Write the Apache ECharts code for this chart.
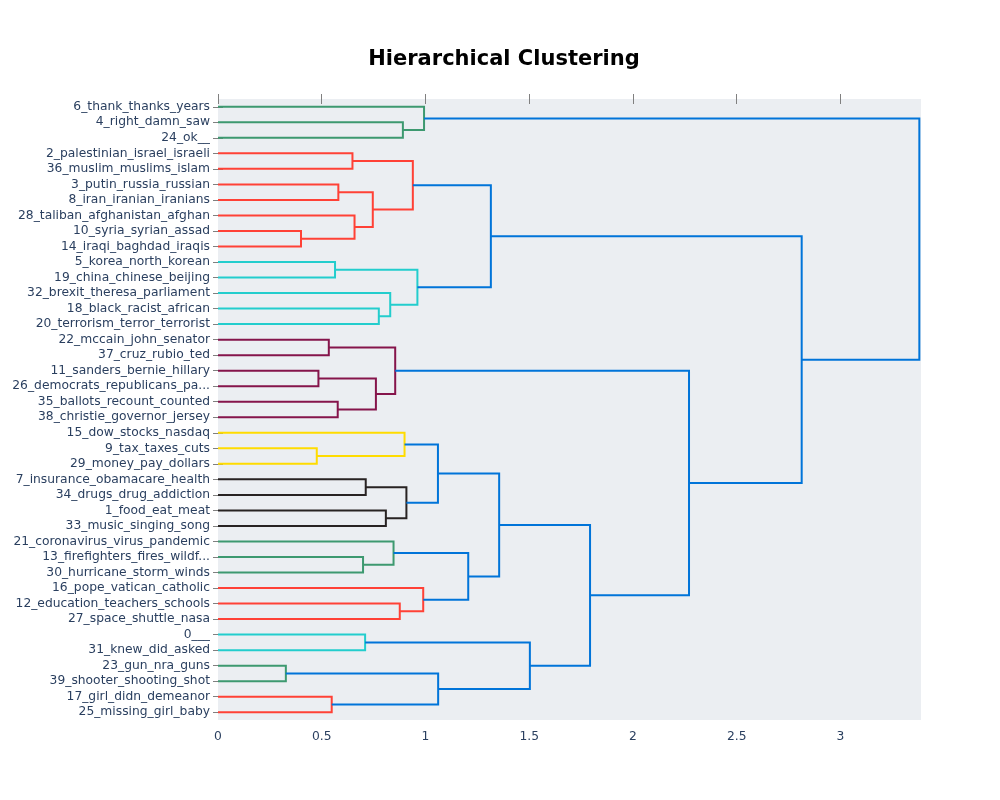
<!DOCTYPE html>
<html>
<head>
<meta charset="utf-8">
<script src="https://cdn.jsdelivr.net/npm/echarts@6/dist/echarts.min.js"></script>
<style>
html,body{margin:0;padding:0;background:#fff;}
#chart{width:1000px;height:800px;}
</style>
</head>
<body>
<div id="chart"></div>
<script>
// Leaves, top to bottom
const leaves = [
  "6_thank_thanks_years","4_right_damn_saw","24_ok__","2_palestinian_israel_israeli",
  "36_muslim_muslims_islam","3_putin_russia_russian","8_iran_iranian_iranians",
  "28_taliban_afghanistan_afghan","10_syria_syrian_assad","14_iraqi_baghdad_iraqis",
  "5_korea_north_korean","19_china_chinese_beijing","32_brexit_theresa_parliament",
  "18_black_racist_african","20_terrorism_terror_terrorist","22_mccain_john_senator",
  "37_cruz_rubio_ted","11_sanders_bernie_hillary","26_democrats_republicans_pa...",
  "35_ballots_recount_counted","38_christie_governor_jersey","15_dow_stocks_nasdaq",
  "9_tax_taxes_cuts","29_money_pay_dollars","7_insurance_obamacare_health",
  "34_drugs_drug_addiction","1_food_eat_meat","33_music_singing_song",
  "21_coronavirus_virus_pandemic","13_firefighters_fires_wildf...","30_hurricane_storm_winds",
  "16_pope_vatican_catholic","12_education_teachers_schools","27_space_shuttle_nasa",
  "0___","31_knew_did_asked","23_gun_nra_guns","39_shooter_shooting_shot",
  "17_girl_didn_demeanor","25_missing_girl_baby"
];
// Merges (scipy style: ids < 40 are leaves, id 40+k is merge k)
const mergeA = [1, 0, 3, 5, 8, 7, 43, 42, 10, 13, 12, 48, 47, 15, 17, 19, 54, 53, 22, 21, 24, 26, 60, 59, 29, 28, 32, 31, 65, 63, 34, 36, 38, 71, 70, 69, 57, 52, 41];
const mergeB = [2, 40, 4, 6, 9, 44, 45, 46, 11, 14, 49, 50, 51, 16, 18, 20, 55, 56, 23, 58, 25, 27, 61, 62, 30, 64, 33, 66, 67, 68, 35, 37, 39, 72, 73, 74, 75, 76, 77];
const mergeHeight = [0.891, 0.993, 0.648, 0.580, 0.400, 0.658, 0.746, 0.939, 0.564, 0.775, 0.830, 0.961, 1.315,
  0.534, 0.484, 0.577, 0.761, 0.854, 0.476, 0.899, 0.712, 0.809, 0.908, 1.060, 0.699, 0.846, 0.876, 0.989, 1.206,
  1.355, 0.709, 0.327, 0.548, 1.061, 1.503, 1.793, 2.270, 2.813, 3.380];
const mergeGroup = ["green","green","red","red","red","red","red","red","cyan","cyan","cyan","cyan","blue",
  "maroon","maroon","maroon","maroon","maroon","yellow","yellow","black","black","black","blue","green","green","red","red","blue",
  "blue","cyan","green","red","blue","blue","blue","blue","blue","blue"];
const xTicks = [0, 0.5, 1, 1.5, 2, 2.5, 3];
const xMax = 3.388;

const palette = {
  blue: "rgb(0,116,217)", cyan: "rgb(35,205,205)", green: "rgb(61,153,112)",
  black: "rgb(40,35,35)", maroon: "rgb(133,20,75)", red: "rgb(255,65,54)", yellow: "rgb(255,220,0)"
};

const N = leaves.length;
const mergeY = [];
function pos(id) {
  if (id < N) return { x: 0, y: 10 * id + 5 };
  const k = id - N;
  return { x: mergeHeight[k], y: mergeY[k] };
}
const series = [];
for (let k = 0; k < mergeA.length; k++) {
  const a = pos(mergeA[k]), b = pos(mergeB[k]);
  mergeY[k] = (a.y + b.y) / 2;
  const h = mergeHeight[k];
  series.push({
    type: "line", xAxisIndex: 0, yAxisIndex: 2,
    data: [[a.x, a.y], [h, a.y], [h, b.y], [b.x, b.y]],
    showSymbol: false, symbol: "none", silent: true, animation: false, clip: false,
    lineStyle: { color: palette[mergeGroup[k]], width: 2, join: "miter" }
  });
}

const font = "DejaVu Sans";
const tickColor = "#808080";
const labelColor = "#2a3f5f";

const chart = echarts.init(document.getElementById("chart"));
chart.setOption({
  animation: false,
  backgroundColor: "#fff",
  title: {
    text: "Hierarchical Clustering", left: 499, textAlign: "center", top: 44,
    textStyle: { fontFamily: font, fontWeight: "bold", fontSize: 21, color: "#000" }
  },
  grid: { left: 218, right: 79, top: 99, bottom: 80, show: true, backgroundColor: "#ebeef2", borderWidth: 0 },
  xAxis: [
    { type: "value", position: "bottom", min: 0, max: xMax,
      axisLine: { show: false }, splitLine: { show: false },
      axisTick: { show: true, inside: false, length: 5, customValues: xTicks, lineStyle: { color: tickColor } },
      axisLabel: { customValues: xTicks, fontFamily: font, fontSize: 12.3, color: labelColor, margin: 11 } },
    { type: "value", position: "top", min: 0, max: xMax,
      axisLine: { show: false }, splitLine: { show: false },
      axisTick: { show: true, inside: false, length: 5, customValues: xTicks, lineStyle: { color: tickColor } },
      axisLabel: { show: false } }
  ],
  yAxis: [
    { type: "category", data: leaves, inverse: true, position: "left",
      axisLine: { show: false }, splitLine: { show: false },
      axisTick: { show: true, alignWithLabel: true, interval: 0, length: 5, lineStyle: { color: tickColor } },
      axisLabel: { interval: 0, fontFamily: font, fontSize: 12.3, color: labelColor, margin: 8 } },
    { type: "category", data: leaves, inverse: true, position: "right",
      axisLine: { show: false }, splitLine: { show: false },
      axisTick: { show: true, alignWithLabel: true, interval: 0, length: 5, lineStyle: { color: tickColor } },
      axisLabel: { show: false } },
    { type: "value", min: 0, max: 400, inverse: true, show: false }
  ],
  series: series
});
</script>
</body>
</html>
